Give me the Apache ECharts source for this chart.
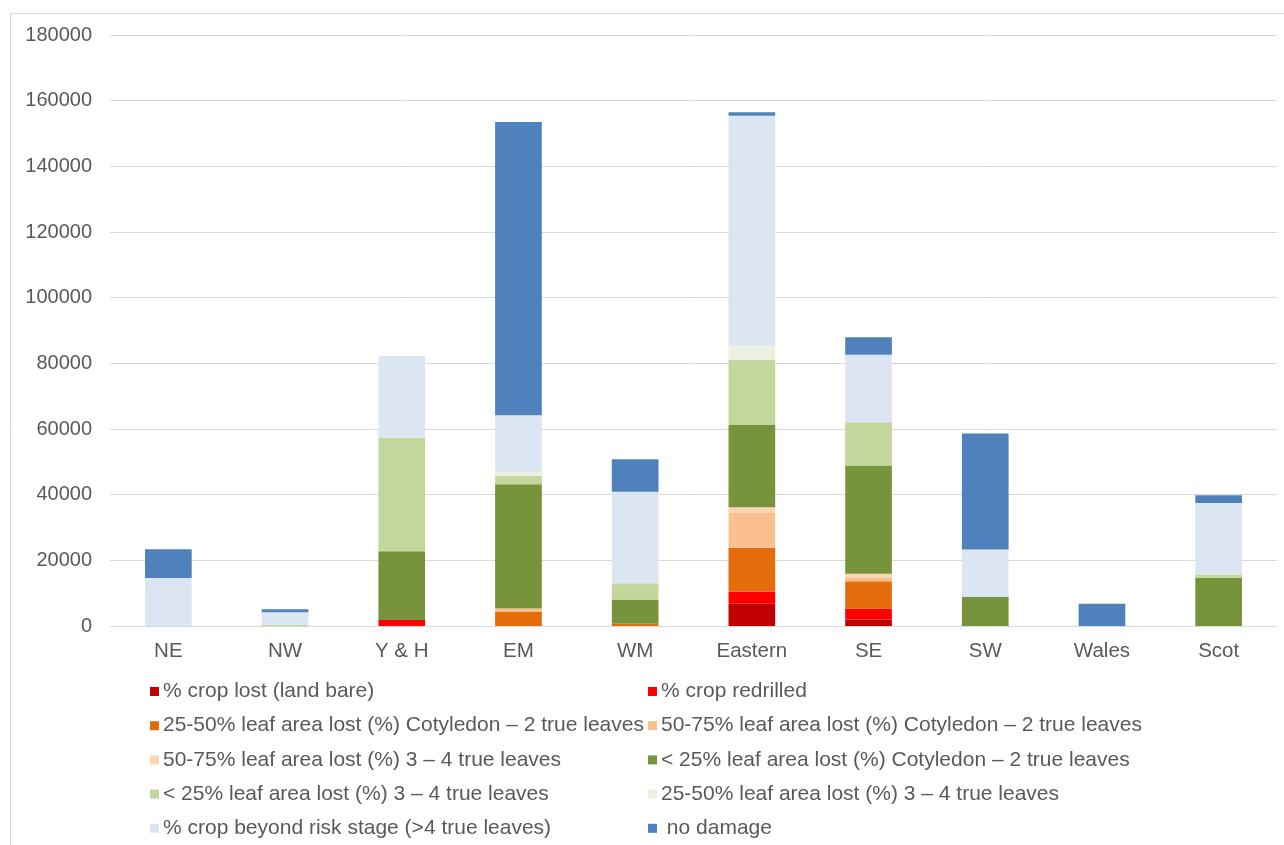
<!DOCTYPE html>
<html>
<head>
<meta charset="utf-8">
<script src="https://cdn.jsdelivr.net/npm/echarts@6/dist/echarts.min.js"></script>
<style>
  html, body { margin: 0; padding: 0; background: #ffffff; }
  #chart { width: 1284px; height: 845px; }
</style>
</head>
<body>
<div id="chart"></div>
<script>
// Regions along the x axis
const regions = ['NE', 'NW', 'Y & H', 'EM', 'WM', 'Eastern', 'SE', 'SW', 'Wales', 'Scot'];

// Area (per region) in each damage class, stacked bottom to top
const cropLost      = [0, 0, 0, 0, 0, 6800, 2000, 0, 0, 0];
const cropRedrilled = [0, 0, 1800, 0, 0, 3700, 3350, 0, 0, 0];
const leaf2550Cot   = [0, 0, 0, 4400, 700, 13300, 8300, 0, 0, 0];
const leaf5075Cot   = [0, 0, 0, 900, 0, 10800, 1200, 0, 0, 0];
const leaf5075True  = [0, 0, 0, 0, 0, 1600, 1100, 0, 0, 0];
const leafLt25Cot   = [0, 0, 21000, 37900, 7400, 25000, 32900, 8800, 0, 14700];
const leafLt25True  = [0, 400, 34500, 2500, 4900, 20000, 13200, 0, 0, 1000];
const leaf2550True  = [0, 0, 0, 1300, 0, 4200, 0, 0, 0, 0];
const beyondRisk    = [14600, 3800, 24900, 17200, 27900, 70000, 20600, 14500, 0, 21800];
const noDamage      = [8800, 930, 0, 89300, 9850, 1050, 5300, 35300, 6800, 2300];

const yTicks = { min: 0, max: 180000, interval: 20000 };

const seriesDefs = [
  { name: '% crop lost (land bare)', data: cropLost, color: '#C00000' },
  { name: '% crop redrilled', data: cropRedrilled, color: '#FF0000' },
  { name: '25-50% leaf area lost (%) Cotyledon – 2 true leaves', data: leaf2550Cot, color: '#E46C0A' },
  { name: '50-75% leaf area lost (%) Cotyledon – 2 true leaves', data: leaf5075Cot, color: '#FAC090' },
  { name: '50-75% leaf area lost (%) 3 – 4 true leaves', data: leaf5075True, color: '#FCD5B5' },
  { name: '< 25% leaf area lost (%) Cotyledon – 2 true leaves', data: leafLt25Cot, color: '#77933C' },
  { name: '< 25% leaf area lost (%) 3 – 4 true leaves', data: leafLt25True, color: '#C3D69B' },
  { name: '25-50% leaf area lost (%) 3 – 4 true leaves', data: leaf2550True, color: '#EBF1DE' },
  { name: '% crop beyond risk stage (>4 true leaves)', data: beyondRisk, color: '#DCE6F2' },
  { name: ' no damage', data: noDamage, color: '#4F81BD' }
];

const textColor = '#595959';
const font = 'Liberation Sans, Arial, sans-serif';

const legendCommon = {
  orient: 'vertical',
  top: 681,
  height: 200,
  icon: 'rect',
  itemWidth: 9,
  itemHeight: 9,
  itemGap: 13.2,
  padding: 0,
  selectedMode: false,
  textStyle: { color: textColor, fontSize: 21, fontFamily: font, lineHeight: 20, padding: [0, 0, 0, -1] }
};

const chart = echarts.init(document.getElementById('chart'), null, { renderer: 'canvas' });

chart.setOption({
  backgroundColor: '#ffffff',
  animation: false,
  graphic: [{
    type: 'rect',
    shape: { x: 10.5, y: 13.5, width: 1400, height: 1000 },
    style: { fill: 'none', stroke: '#d9d9d9', lineWidth: 1 },
    silent: true
  }],
  legend: [
    Object.assign({ left: 150, data: [seriesDefs[0], seriesDefs[2], seriesDefs[4], seriesDefs[6], seriesDefs[8]].map(s => s.name) }, legendCommon),
    Object.assign({ left: 648, data: [seriesDefs[1], seriesDefs[3], seriesDefs[5], seriesDefs[7], seriesDefs[9]].map(s => s.name) }, legendCommon)
  ],
  grid: { left: 110, right: 7, top: 35, bottom: 219, containLabel: false },
  xAxis: {
    type: 'category',
    data: regions,
    axisLine: { lineStyle: { color: '#d9d9d9' } },
    axisTick: { show: false },
    axisLabel: { color: textColor, fontSize: 20.5, fontFamily: font, margin: 15 }
  },
  yAxis: {
    type: 'value',
    min: yTicks.min,
    max: yTicks.max,
    interval: yTicks.interval,
    axisLine: { show: false },
    axisTick: { show: false },
    splitLine: { lineStyle: { color: '#d9d9d9', width: 1 } },
    axisLabel: { color: textColor, fontSize: 20, fontFamily: font, margin: 18, formatter: v => String(v) }
  },
  series: seriesDefs.map(s => ({
    name: s.name,
    type: 'bar',
    stack: 'area',
    barWidth: '40%',
    data: s.data,
    itemStyle: { color: s.color },
    emphasis: { disabled: true }
  }))
});
</script>
</body>
</html>
